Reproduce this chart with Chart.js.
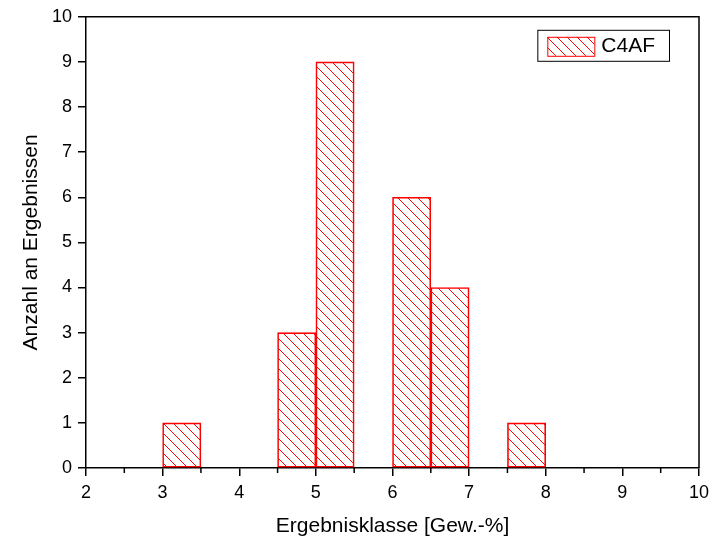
<!DOCTYPE html>
<html>
<head>
<meta charset="utf-8">
<script src="https://cdn.jsdelivr.net/npm/chart.js@4.4.1/dist/chart.umd.min.js"></script>
<style>
  body { margin: 0; background: #fff; }
  canvas { display: block; }
</style>
</head>
<body>
<canvas id="myChart" width="720" height="542"></canvas>
<script>
// histogram data (bin centres, bin width 0.5)
const binCenters = [3.25, 4.75, 5.25, 6.25, 6.75, 7.75];
const counts = [1, 3, 9, 6, 4, 1];
const seriesName = 'C4AF';
const xTicks = [2, 3, 4, 5, 6, 7, 8, 9, 10];
const yTicks = [0, 1, 2, 3, 4, 5, 6, 7, 8, 9, 10];

const FONT = 'Liberation Sans, Arial, Helvetica, sans-serif';

// hatch pattern "\\\"
function makeHatch(color) {
    const s = 10;
    const c = document.createElement('canvas');
    c.width = s; c.height = s;
    const g = c.getContext('2d');
    g.strokeStyle = color;
    g.lineWidth = 1;
    g.beginPath();
    g.moveTo(-1, -1);
    g.lineTo(s + 1, s + 1);
    g.stroke();
    return g.createPattern(c, 'repeat');
}

const hatch = makeHatch('rgb(255,0,0)');

// box round the plot, minor ticks, legend
const framePlugin = {
    id: 'frame',
    afterDraw(chart) {
        const { ctx, chartArea: a } = chart;
        ctx.save();
        ctx.strokeStyle = '#000';
        ctx.lineWidth = 1.5;
        ctx.beginPath();
        ctx.moveTo(a.left, a.top);
        ctx.lineTo(a.right, a.top);
        ctx.lineTo(a.right, a.bottom);
        ctx.stroke();

        // minor ticks on x between majors
        const xs = chart.scales.x;
        for (let i = 0; i < xs.ticks.length - 1; i++) {
            const mid = (xs.ticks[i].value + xs.ticks[i + 1].value) / 2;
            const px = xs.getPixelForValue(mid);
            ctx.beginPath();
            ctx.moveTo(px, a.bottom);
            ctx.lineTo(px, a.bottom + 5);
            ctx.stroke();
        }

        // legend
        const ds = chart.data.datasets[0];
        ctx.font = '21px ' + FONT;
        const tw = ctx.measureText(ds.label).width;
        const w = 10 + 47 + 7 + tw + 14;
        const h = 31;
        const x0 = a.right - 30 - w;
        const y0 = a.top + 13;
        ctx.lineWidth = 1;
        ctx.strokeStyle = '#000';
        ctx.strokeRect(x0 + 0.5, y0 + 0.5, w, h);
        ctx.fillStyle = ds.backgroundColor;
        ctx.fillRect(x0 + 10, y0 + 7, 47, 19);
        ctx.strokeStyle = ds.borderColor;
        ctx.strokeRect(x0 + 10.5, y0 + 7.5, 47, 19);
        ctx.fillStyle = '#000';
        ctx.textBaseline = 'middle';
        ctx.fillText(ds.label, x0 + 10 + 47 + 7, y0 + h / 2 + 1);
        ctx.restore();
    }
};

const ctx = document.getElementById('myChart').getContext('2d');
new Chart(ctx, {
    type: 'bar',
    data: {
        datasets: [
            {
                label: seriesName,
                data: binCenters.map((x, i) => ({ x: x, y: counts[i] })),
                backgroundColor: hatch,
                borderColor: 'rgb(255,0,0)',
                borderWidth: 1,
                borderSkipped: false,
                barPercentage: 1,
                categoryPercentage: 1,
            },
        ],
    },
    options: {
        responsive: false,
        animation: false,
        layout: { padding: { left: 0, top: 13, right: 21, bottom: 0 } },
        plugins: {
            legend: { display: false },
            tooltip: { enabled: false },
        },
        scales: {
            x: {
                type: 'linear',
                offset: false,
                min: xTicks[0],
                max: xTicks[xTicks.length - 1],
                afterBuildTicks: (scale) => { scale.ticks = xTicks.map(v => ({ value: v })); },
                afterFit: (scale) => { scale.height = 74; },
                grid: { offset: false, drawOnChartArea: false, tickLength: 8, color: '#000', lineWidth: 1.5 },
                border: { color: '#000', width: 1.5 },
                ticks: { color: '#000', padding: 6, font: { family: FONT, size: 18 }, maxRotation: 0 },
                title: {
                    display: true,
                    text: 'Ergebnisklasse [Gew.-%]',
                    color: '#000',
                    font: { family: FONT, size: 21 },
                    padding: { top: 0, bottom: 3 },
                },
            },
            y: {
                type: 'linear',
                min: yTicks[0],
                max: yTicks[yTicks.length - 1],
                afterBuildTicks: (scale) => { scale.ticks = yTicks.map(v => ({ value: v })); },
                afterFit: (scale) => { scale.width = 86; },
                grid: { drawOnChartArea: false, tickLength: 8, color: '#000', lineWidth: 1.5 },
                border: { color: '#000', width: 1.5 },
                ticks: { color: '#000', padding: 6, font: { family: FONT, size: 18 } },
                title: {
                    display: true,
                    text: 'Anzahl an Ergebnissen',
                    color: '#000',
                    font: { family: FONT, size: 21 },
                    padding: { top: 19, bottom: 0 },
                },
            },
        },
    },
    plugins: [framePlugin],
});
</script>
</body>
</html>
